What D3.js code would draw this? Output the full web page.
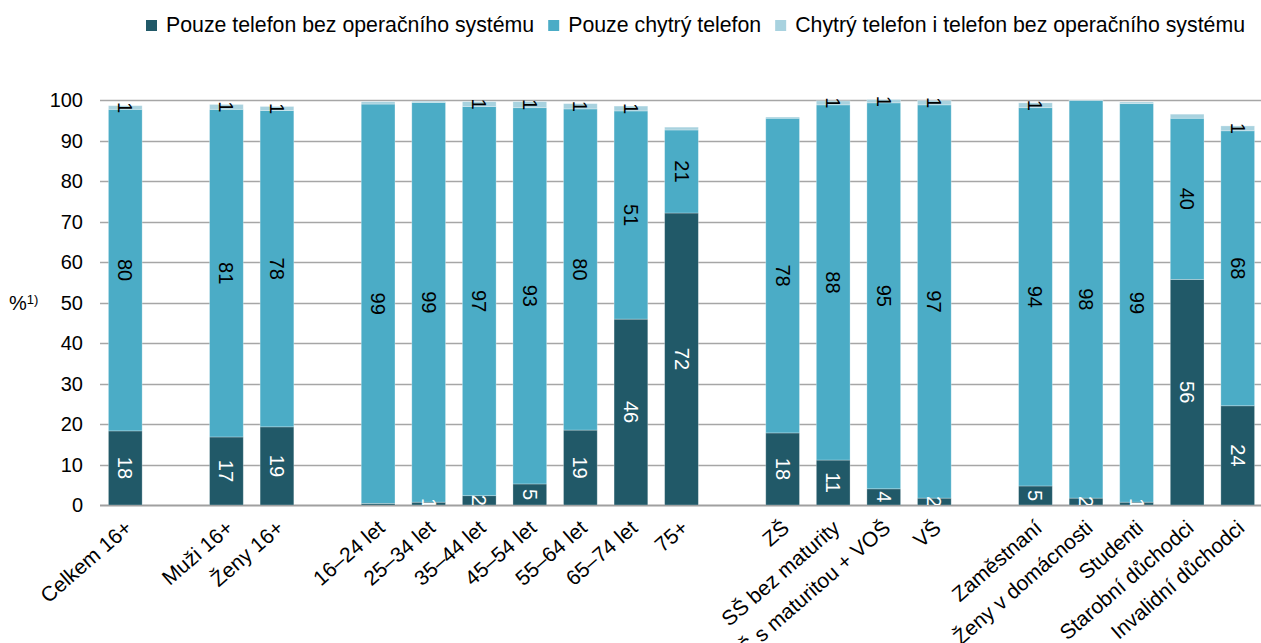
<!DOCTYPE html>
<html>
<head>
<meta charset="utf-8">
<script src="https://cdn.jsdelivr.net/npm/d3@7"></script>
<style>
  body { margin: 0; background: #fff; }
  svg { display: block; font-family: Arial, "Liberation Sans", sans-serif; }
</style>
</head>
<body>
<svg id="chart" width="1261" height="643"></svg>
<script>
// slots on the x axis, null = empty gap between groups
const slots = [
    "Celkem 16+", null,
    "Muži 16+", "Ženy 16+", null,
    "16–24 let", "25–34 let", "35–44 let", "45–54 let", "55–64 let", "65–74 let", "75+", null,
    "ZŠ", "SŠ bez maturity", "SŠ s maturitou + VOŠ", "VŠ", null,
    "Zaměstnaní", "Ženy v domácnosti", "Studenti", "Starobní důchodci", "Invalidní důchodci"
];

const seriesNames = [
    "Pouze telefon bez operačního systému",
    "Pouze chytrý telefon",
    "Chytrý telefon i telefon bez operačního systému"
];

// values in category order (gaps skipped)
const basicOnly = [18.3, 16.8, 19.3, 0.4, 0.7, 2.3, 5.2, 18.5, 45.9, 72.1, 17.8, 11.1, 4.0, 1.7, 4.7, 1.7, 0.7, 55.7, 24.5];
const smartOnly = [79.4, 80.9, 78.1, 98.6, 98.7, 96.1, 92.9, 79.3, 51.4, 20.5, 77.7, 87.7, 95.3, 97.1, 93.4, 98.2, 98.4, 39.8, 67.9];
const both      = [0.9, 1.2, 1.0, 0.6, 0.3, 1.2, 1.5, 1.3, 1.2, 0.7, 0.3, 1.0, 0.8, 1.1, 1.2, 0.1, 0.4, 1.0, 1.2];

// data labels as printed (null = no label)
const basicLabels = [18, 17, 19, null, 1, 2, 5, 19, 46, 72, 18, 11, 4, 2, 5, 2, 1, 56, 24];
const smartLabels = [80, 81, 78, 99, 99, 97, 93, 80, 51, 21, 78, 88, 95, 97, 94, 98, 99, 40, 68];
const bothLabels  = [1, 1, 1, null, null, 1, 1, 1, 1, null, null, 1, 1, 1, 1, null, null, null, 1];

const yTicks = [0, 10, 20, 30, 40, 50, 60, 70, 80, 90, 100];

const colors = ["#215968", "#4bacc6", "#a8d2df"];
const labelColors = ["#ffffff", "#000000", "#000000"];

const svg = d3.select("#chart");

const plotLeft = 100, plotRight = 1263, plotTop = 100, plotBottom = 505;

// build rows
const rows = [];
let k = 0;
slots.forEach((name, i) => {
    if (name === null) return;
    rows.push({
        slot: i,
        name: name,
        values: [basicOnly[k], smartOnly[k], both[k]],
        labels: [basicLabels[k], smartLabels[k], bothLabels[k]]
    });
    k++;
});

const x = d3.scaleBand()
    .domain(d3.range(slots.length))
    .range([plotLeft, plotRight])
    .paddingInner(0.333)
    .paddingOuter(0.1665);

const y = d3.scaleLinear().domain([0, 100]).range([plotBottom, plotTop]);

// gridlines
svg.append("g")
    .selectAll("line")
    .data(yTicks)
    .join("line")
    .attr("x1", plotLeft)
    .attr("x2", 1261)
    .attr("y1", d => Math.round(y(d)) + 0.5)
    .attr("y2", d => Math.round(y(d)) + 0.5)
    .attr("stroke", d => d === 0 ? "#a0a0a0" : "#a6a6a6")
    .attr("stroke-width", d => d === 0 ? 2 : 1.3);

// y tick labels
svg.append("g")
    .selectAll("text")
    .data(yTicks)
    .join("text")
    .attr("x", 83)
    .attr("y", d => y(d))
    .attr("dy", "0.35em")
    .attr("text-anchor", "end")
    .style("font-size", "20px")
    .attr("fill", "#000")
    .text(d => d);

// axis title
const yTitle = svg.append("text")
    .attr("x", 9)
    .attr("y", y(50))
    .attr("dy", "0.35em")
    .style("font-size", "20px")
    .attr("fill", "#000");
yTitle.append("tspan").text("%");
yTitle.append("tspan").attr("dy", "-0.45em").style("font-size", "13px").text("1)");

// stacked segments
const segs = [];
rows.forEach(r => {
    let acc = 0;
    r.values.forEach((v, s) => {
        segs.push({ slot: r.slot, s: s, y0: acc, y1: acc + v, label: r.labels[s] });
        acc += v;
    });
});

svg.append("defs").append("clipPath").attr("id", "plotClip")
    .append("rect")
    .attr("x", plotLeft).attr("y", 60)
    .attr("width", plotRight - plotLeft).attr("height", plotBottom - 60);

const plot = svg.append("g").attr("clip-path", "url(#plotClip)");

plot.selectAll("rect")
    .data(segs)
    .join("rect")
    .attr("x", d => x(d.slot))
    .attr("width", x.bandwidth())
    .attr("y", d => y(d.y1))
    .attr("height", d => y(d.y0) - y(d.y1))
    .attr("fill", d => colors[d.s])
    .attr("stroke", "#ffffff")
    .attr("stroke-opacity", 0.35)
    .attr("stroke-width", 0.8);

plot.selectAll("text")
    .data(segs.filter(d => d.label !== null))
    .join("text")
    .attr("transform", d => {
        const cx = x(d.slot) + x.bandwidth() / 2;
        const cy = y((d.y0 + d.y1) / 2);
        return `translate(${cx},${cy}) rotate(90)`;
    })
    .attr("text-anchor", "middle")
    .attr("dy", "0.35em")
    .style("font-size", "20px")
    .attr("fill", d => labelColors[d.s])
    .text(d => d.label);

// x labels
svg.append("g")
    .selectAll("text")
    .data(rows)
    .join("text")
    .attr("transform", d => `translate(${x(d.slot) + x.bandwidth() / 2 + 8},${530}) rotate(-41)`)
    .attr("text-anchor", "end")
    .style("font-size", "21px")
    .attr("fill", "#000")
    .text(d => d.name);

// legend
const legend = svg.append("g").attr("transform", "translate(0,25)");
let lx = 146;
seriesNames.forEach((name, i) => {
    legend.append("rect")
        .attr("x", lx)
        .attr("y", -5)
        .attr("width", 11)
        .attr("height", 11)
        .attr("fill", colors[i]);
    const t = legend.append("text")
        .attr("x", lx + 20)
        .attr("y", 0)
        .attr("dy", "0.35em")
        .style("font-size", "21.3px")
        .attr("fill", "#000")
        .text(name);
    lx += 20 + t.node().getComputedTextLength() + 14;
});
</script>
</body>
</html>
